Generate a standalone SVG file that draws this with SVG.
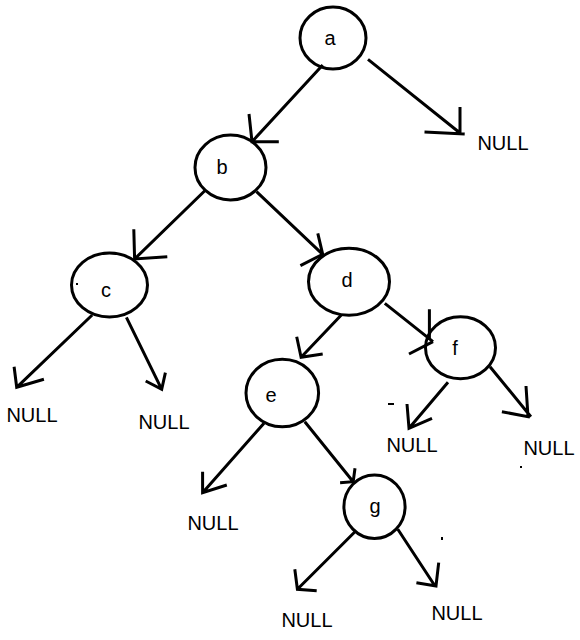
<svg xmlns="http://www.w3.org/2000/svg" width="580" height="640" viewBox="0 0 580 640">
<style>
.n{fill:none;stroke:#000;stroke-width:3}
.t{font-family:"Liberation Sans",Arial,sans-serif;font-size:20px;fill:#000;text-anchor:middle}
.e path{fill:none;stroke:#000;stroke-width:3;stroke-linecap:butt}
</style>
<rect width="580" height="640" fill="#fff"/>
<g id="node-a"><ellipse class="n" cx="333" cy="38" rx="33" ry="31"/><text class="t" x="330" y="45">a</text></g>
<g id="node-b"><ellipse class="n" cx="230.5" cy="167.5" rx="35.5" ry="32.5"/><text class="t" x="222" y="174">b</text></g>
<g id="node-c"><ellipse class="n" cx="109.5" cy="285" rx="38" ry="32"/><text class="t" x="106" y="297">c</text></g>
<g id="node-d"><ellipse class="n" cx="349" cy="281.7" rx="40.5" ry="33.5"/><text class="t" x="347" y="287">d</text></g>
<g id="node-e"><ellipse class="n" cx="282.3" cy="393" rx="36.3" ry="33.7"/><text class="t" x="271" y="402">e</text></g>
<g id="node-f"><ellipse class="n" cx="460.5" cy="347.8" rx="35" ry="31"/><text class="t" x="455" y="355">f</text></g>
<g id="node-g"><ellipse class="n" cx="374.5" cy="506.7" rx="30.6" ry="31.7"/><text class="t" x="375" y="513">g</text></g>
<g class="e" id="connectors">
<path d="M322.7,65 L252,141.7 M249,114 L252,141.7 L278.8,141.7"/>
<path d="M368,59.3 L460,133 M460,107 L460,135 M424.5,132 L464.7,134"/>
<path d="M205.6,190 L134.6,259 M133.8,229.3 L134.6,259 L167.3,256.7"/>
<path d="M256.5,191.7 L322.7,254.3 M317.8,233.3 L322.7,254.3 L300.4,265.7"/>
<path d="M92.2,315 L16.7,387.3 M14.1,366.7 L16.7,387.3 L43.9,379.3"/>
<path d="M126.4,317.3 L161.7,389.3 M145.7,381 L161.7,389.3 L165.4,372.7"/>
<path d="M341.3,315 L301.1,357.3 M296.7,336.7 L301.1,357.3 L322.7,354"/>
<path d="M384.8,303.3 L433,341.7 M429.4,309.3 L429.4,340 M409,354 L433,341.7"/>
<path d="M264,423.3 L202.6,492.7 M202.6,471.7 L202.6,492.7 L226.8,485"/>
<path d="M304.8,421.7 L353.2,481.7 M355,468.3 L353.2,481.7 L340.1,482.7"/>
<path d="M448,382.3 L409,428.3 M407,404 L409,428.3 L432,418.3"/>
<path d="M490,366.7 L530.9,416.7 M526,386 L528,416.7 L501.9,411.7"/>
<path d="M355,531.7 L297.4,589.3 M294.8,569.3 L297.4,589.3 L316.7,590.7"/>
<path d="M397.8,529.3 L435,586 M438.7,562.7 L436,586 L416.4,582.7"/>
</g>
<g id="nulls">
<text class="t" x="503" y="150">NULL</text>
<text class="t" x="32" y="422">NULL</text>
<text class="t" x="164" y="429">NULL</text>
<text class="t" x="213" y="530">NULL</text>
<text class="t" x="412" y="452">NULL</text>
<text class="t" x="549" y="455">NULL</text>
<text class="t" x="307" y="627">NULL</text>
<text class="t" x="457" y="620">NULL</text>
</g>
<g id="marks" fill="#000">
<rect x="76" y="283" width="2" height="2"/>
<rect x="388" y="403" width="6" height="2"/>
<rect x="520" y="466" width="2" height="2"/>
<rect x="441" y="537" width="2" height="3"/>
</g>
</svg>
